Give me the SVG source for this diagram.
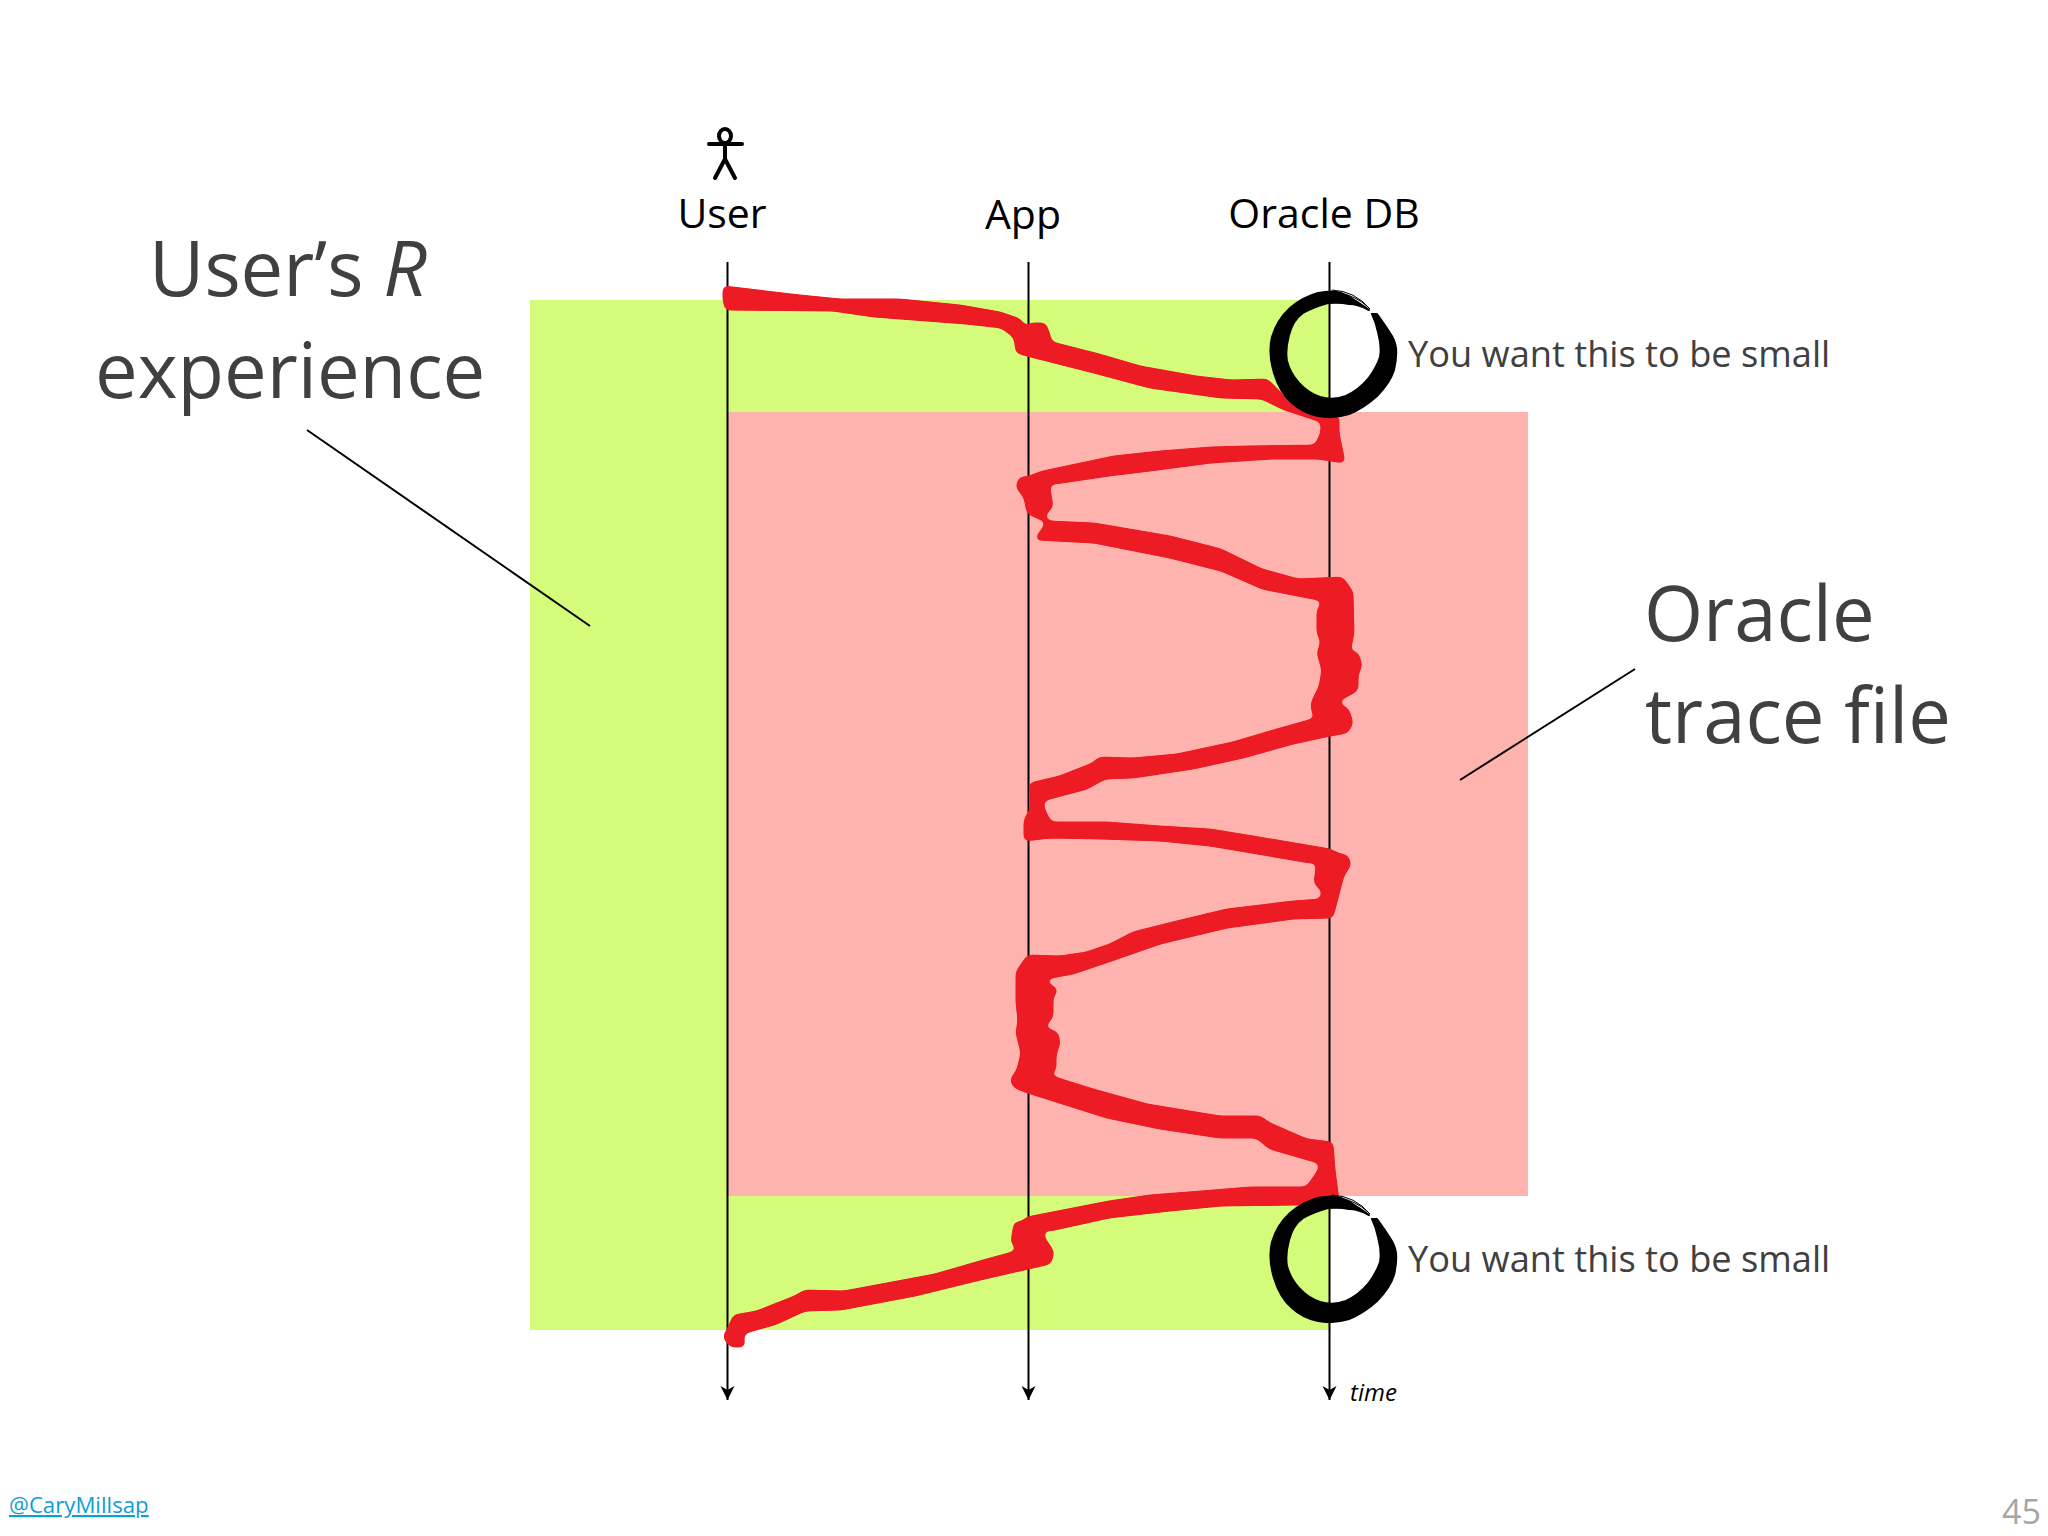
<svg xmlns="http://www.w3.org/2000/svg" xmlns:xlink="http://www.w3.org/1999/xlink" width="2048" height="1536" viewBox="0 0 2048 1536">
<defs>
<style>
.t{font-family:"Open Sans","Noto Sans",sans-serif}
.life{stroke:#000;stroke-width:2;fill:none;marker-end:url(#arr)}
.lbl{font-size:41px;fill:#000}
.big{font-size:76px;fill:#404040}
.note{font-size:36.2px;fill:#404040}
.red{fill:#ed1c24;stroke:#ed1c24;stroke-width:3;stroke-linejoin:round}
</style>
<marker id="arr" markerUnits="userSpaceOnUse" markerWidth="16" markerHeight="16" refX="14" refY="7" orient="auto">
<path d="M0 0L14 7L0 14L4 7Z" fill="#000"/>
</marker>
<filter id="smooth" filterUnits="userSpaceOnUse" x="680" y="250" width="720" height="1120" color-interpolation-filters="sRGB">
<feGaussianBlur in="SourceAlpha" stdDeviation="3"/>
<feComponentTransfer result="a"><feFuncA type="linear" slope="10" intercept="-4.5"/></feComponentTransfer>
<feFlood flood-color="#ed1c24"/>
<feComposite in2="a" operator="in"/>
</filter>
<g id="enso">
<path d="M1372 314L1377 314Q1385 325 1390 333Q1395 340 1396 348Q1397 357 1394 370Q1390 383 1377 396Q1364 408 1349 414Q1333 419 1318 416Q1303 413 1292 403Q1280 393 1274 373Q1268 353 1272 337Q1277 320 1290 308Q1303 297 1318 293Q1333 290 1341 293Q1349 296 1369 310Q1358 304 1349 304Q1340 302 1328 303Q1313 307 1303 313Q1293 320 1289 335Q1285 350 1287 361Q1290 373 1299 383Q1308 393 1320 397Q1333 401 1346 396Q1359 390 1368 379Q1377 367 1380 357Q1382 347 1378 332Q1376 322 1372 314Z" fill="#000" stroke="#000" stroke-width="2" stroke-linejoin="round"/>
<path d="M1332 290Q1355 291 1370 309M1340 293Q1356 296 1368 307" fill="none" stroke="#000" stroke-width="1"/>
</g>
</defs>
<rect width="2048" height="1536" fill="#fff"/>
<g id="bands">
<rect x="530" y="300" width="800" height="1030" fill="#d4fb79"/>
<rect x="727" y="412" width="801" height="784" fill="#ffb3ae"/>
</g>
<g id="connectors">
<path class="life" d="M727.5 262V1400"/>
<path class="life" d="M1028.5 262V1400"/>
<path class="life" d="M1329.5 262V1400"/>
<path d="M307 430L590 626M1635 669L1460 780" stroke="#000" stroke-width="2" fill="none"/>
</g>
<g id="response-trace" filter="url(#smooth)">
<path class="red" d="M724 287L800 296L840 300L900 300L960 306L1000 313L1020 320L1026 330L1030 324L1045 324L1050 338L1045 350L1017 352L1015 337L1002 327L966 323L874 316L833 310L726 309L724 300Z"/>
<path class="red" d="M1048 342L1099 355L1140 367L1196 377L1231 381L1267 380L1277 390L1293 407L1328 418L1318 420L1282 408L1262 398L1221 397L1150 387L1094 372L1027 355L1017 352L1030 335Z"/>
<path class="red" d="M1322 416L1338 416L1338 433L1344 462L1318 458L1272 458L1211 462L1150 470L1109 475L1055 483L1048 482L1052 507L1043 515L1048 522L1028 513L1025 497L1017 487L1020 478L1027 478L1043 472L1114 457L1160 452L1211 448L1247 447L1316 446L1322 432Z"/>
<path class="red" d="M1048 522L1094 524L1170 537L1221 550L1262 570L1298 580L1342 578L1352 592L1353 633L1350 648L1342 652L1357 653L1361 665L1357 675L1357 690L1335 702L1348 710L1352 723L1347 732L1330 735L1293 743L1243 757L1193 768L1133 777L1105 778L1087 788L1042 800L1043 808L1050 823L1107 823L1160 827L1210 830L1253 837L1330 850L1340 855L1347 856L1350 865L1343 875L1332 917L1293 918L1227 927L1160 943L1117 958L1073 973L1040 979L1057 990L1052 997L1052 1017L1042 1028L1057 1033L1059 1043L1055 1055L1055 1070L1045 1075L1093 1090L1147 1105L1220 1117L1260 1117L1268 1123L1307 1140L1332 1143L1334 1170L1338 1200L1300 1204L1221 1205L1170 1210L1109 1217L1050 1230L1043 1227L1043 1237L1053 1252L1050 1263L976 1280L915 1295L841 1309L805 1310L777 1323L742 1333L744 1346L731 1346L724 1337L729 1328L734 1316L757 1312L795 1297L805 1291L844 1292L935 1275L987 1260L1020 1251L1012 1242L1015 1223L1022 1223L1027 1218L1109 1202L1150 1196L1201 1192L1250 1188L1307 1188L1318 1172L1322 1163L1270 1148L1257 1137L1220 1137L1160 1128L1107 1117L1028 1092L1015 1087L1011 1080L1018 1070L1022 1053L1017 1033L1019 1020L1017 1003L1017 972L1028 956L1060 957L1087 953L1110 945L1133 933L1177 922L1227 910L1293 902L1322 900L1323 890L1315 883L1318 860L1310 862L1210 845L1160 840L1100 838L1050 837L1025 840L1025 820L1032 808L1030 784L1060 777L1093 764L1100 758L1133 759L1177 755L1233 743L1277 730L1320 718L1313 713L1312 703L1320 687L1323 670L1318 653L1322 642L1318 633L1318 610L1325 600L1313 598L1262 588L1221 570L1170 557L1094 542L1036 539Z"/>
</g>
<g id="circle-top"><use xlink:href="#enso" href="#enso"/></g>
<g id="circle-bottom"><use xlink:href="#enso" href="#enso" y="905"/></g>
<g id="user-icon" fill="none" stroke="#000" stroke-width="4" stroke-linecap="round">
<ellipse cx="725" cy="136" rx="6" ry="7"/>
<path d="M709 144H742M725 143V159M725 159L715 178M725 159L735 178"/>
</g>
<g id="labels" class="t">
<text class="lbl" x="722" y="228" text-anchor="middle">User</text>
<text class="lbl" x="1023" y="229" text-anchor="middle">App</text>
<text class="lbl" x="1324" y="228" text-anchor="middle">Oracle DB</text>
<text class="big" x="149" y="296">User’s <tspan font-style="italic">R</tspan></text>
<text class="big" x="95" y="398">experience</text>
<text class="big" x="1644" y="641">Oracle</text>
<text class="big" x="1645" y="743">trace file</text>
<text class="note" x="1408" y="367">You want this to be small</text>
<text class="note" x="1408" y="1272">You want this to be small</text>
<text x="1350" y="1401" font-size="24" font-style="italic" fill="#000">time</text>
<text x="9" y="1513" font-size="22.2" fill="#0f9ed5" text-decoration="underline">@CaryMillsap</text>
<text x="2002" y="1524" font-size="34" fill="#a6a6a6">45</text>
</g>
</svg>
